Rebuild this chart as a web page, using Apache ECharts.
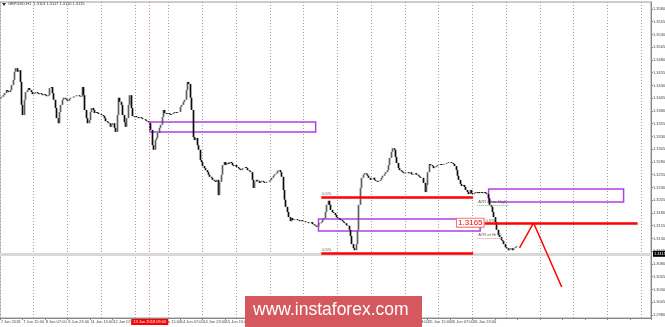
<!DOCTYPE html>
<html><head><meta charset="utf-8">
<script src="https://cdn.jsdelivr.net/npm/echarts@6/dist/echarts.min.js"></script>
<style>html,body{margin:0;padding:0;background:#fff}#c{width:665px;height:327px}</style>
</head><body><div id="c"></div>
<script>
// ---- data (GBPUSD H1) ----
const closes = [
1.3406,1.3408,1.3411,1.3415,1.3421,1.3419,1.3417,1.3421,1.3431,1.3441,
1.3457,1.3464,1.3457,1.3460,1.3437,1.3392,1.3372,1.3402,1.3417,1.3421,
1.3425,1.3421,1.3417,1.3413,1.3415,1.3417,1.3415,1.3413,1.3415,1.3413,
1.3411,1.3413,1.3411,1.3409,1.3411,1.3425,1.3427,1.3415,1.3402,1.3386,
1.3366,1.3356,1.3378,1.3392,1.3402,1.3406,1.3404,1.3402,1.3400,1.3404,
1.3406,1.3406,1.3408,1.3409,1.3411,1.3411,1.3409,1.3408,1.3427,1.3411,
1.3382,1.3366,1.3356,1.3362,1.3378,1.3386,1.3382,1.3376,1.3378,1.3376,
1.3374,1.3374,1.3372,1.3370,1.3366,1.3360,1.3358,1.3356,1.3349,1.3353,
1.3356,1.3347,1.3339,1.3372,1.3406,1.3398,1.3392,1.3372,1.3358,1.3349,
1.3366,1.3392,1.3411,1.3386,1.3370,1.3368,1.3370,1.3368,1.3366,1.3368,
1.3366,1.3364,1.3364,1.3362,1.3360,1.3358,1.3356,1.3343,1.3313,1.3304,
1.3323,1.3327,1.3337,1.3347,1.3353,1.3368,1.3382,1.3376,1.3374,1.3376,
1.3374,1.3372,1.3374,1.3376,1.3378,1.3376,1.3378,1.3378,1.3388,1.3392,
1.3398,1.3402,1.3421,1.3437,1.3433,1.3406,1.3382,1.3329,1.3323,1.3327,
1.3313,1.3304,1.3284,1.3280,1.3272,1.3268,1.3264,1.3260,1.3255,1.3251,
1.3249,1.3245,1.3243,1.3241,1.3245,1.3215,1.3241,1.3255,1.3274,1.3280,
1.3274,1.3278,1.3276,1.3280,1.3278,1.3274,1.3272,1.3274,1.3270,1.3268,
1.3266,1.3264,1.3268,1.3268,1.3270,1.3268,1.3264,1.3262,1.3260,1.3245,
1.3229,1.3241,1.3245,1.3243,1.3239,1.3241,1.3243,1.3241,1.3239,1.3241,
1.3241,1.3243,1.3245,1.3249,1.3253,1.3256,1.3258,1.3262,1.3264,1.3260,
1.3251,1.3225,1.3206,1.3192,1.3182,1.3172,1.3164,1.3170,1.3166,1.3168,
1.3168,1.3166,1.3166,1.3164,1.3166,1.3164,1.3164,1.3162,1.3162,1.3160,
1.3160,1.3162,1.3158,1.3156,1.3155,1.3153,1.3158,1.3160,1.3162,1.3166,
1.3170,1.3182,1.3196,1.3204,1.3196,1.3186,1.3182,1.3180,1.3176,1.3172,
1.3170,1.3168,1.3166,1.3164,1.3162,1.3160,1.3156,1.3155,1.3147,1.3135,
1.3119,1.3111,1.3107,1.3119,1.3147,1.3196,1.3229,1.3249,1.3255,1.3258,
1.3256,1.3253,1.3249,1.3245,1.3247,1.3249,1.3245,1.3243,1.3241,1.3243,
1.3245,1.3249,1.3253,1.3256,1.3260,1.3264,1.3274,1.3288,1.3300,1.3307,
1.3304,1.3290,1.3278,1.3268,1.3264,1.3262,1.3260,1.3258,1.3260,1.3260,
1.3258,1.3260,1.3256,1.3255,1.3256,1.3258,1.3255,1.3253,1.3251,1.3249,
1.3249,1.3239,1.3221,1.3235,1.3260,1.3276,1.3274,1.3272,1.3268,1.3270,
1.3272,1.3274,1.3274,1.3276,1.3274,1.3276,1.3276,1.3278,1.3278,1.3280,
1.3280,1.3278,1.3276,1.3272,1.3264,1.3253,1.3245,1.3237,1.3233,1.3235,
1.3231,1.3225,1.3221,1.3217,1.3225,1.3219,1.3217,1.3219,1.3221,1.3219,
1.3221,1.3219,1.3221,1.3219,1.3221,1.3219,1.3217,1.3209,1.3196,1.3192,
1.3182,1.3172,1.3162,1.3147,1.3137,1.3133,1.3127,1.3125,1.3119,1.3113,
1.3111,1.3107,1.3109,1.3111,1.3107,1.3111,1.3113,1.3115
];
const firstOpen = 1.3404;
const xTickLabels = ['7 Jun 2018','7 Jun 15:00','8 Jun 07:00','8 Jun 23:00','11 Jun 15:00','12 Jun 07:00','12 Jun 23:00','13 Jun 15:00','14 Jun 07:00','14 Jun 23:00','15 Jun 15:00','18 Jun 07:00','18 Jun 23:00','19 Jun 15:00','20 Jun 07:00','20 Jun 23:00','21 Jun 15:00','22 Jun 07:00','22 Jun 23:00','25 Jun 15:00','26 Jun 07:00','26 Jun 23:00','27 Jun 15:00'];
const yTickLabels = [1.2980,1.3005,1.3030,1.3055,1.3080,1.3105,1.3130,1.3155,1.3180,1.3205,1.3230,1.3255,1.3280,1.3305,1.3330,1.3355,1.3380,1.3405,1.3430,1.3455,1.3480,1.3505,1.3530,1.3555,1.3580];
const headerText = 'GBPUSD,H1  1.3113 1.3117 1.3110 1.3115';
const lastPrice = 1.3115;
const levelLabel = '1.3165';
// zones: [startBar, endBar, topPrice, bottomPrice]
const zone1 = [106, 224, 1.33584, 1.33388];
const zone2 = [226, 341, 1.31682, 1.31447];
const zone3 = [347, 443, 1.32270, 1.32016];
// red levels: [startBar, endBar, price]
const levelUpper = [228, 336, 1.32114];
const levelLower = [228, 336, 1.31016];
const levelRight = [344, 453, 1.31594];
// projected path: [bar, price]
const projection = [[369, 1.31114], [379, 1.31604], [399, 1.30349]];
const atrLine1 = [339, 361, 1.31957];
const atrLine2 = [339, 357, 1.31310];
const markerBar = 106;
const markerLabel = '13 Jun 2018 09:00';
const totalBars = 463;
const barsPerLabel = 16;
const barsPerGrid = 24;

// ---- build ----
const cats = [];
for (let i = 0; i < totalBars; i++) cats.push('b' + i);
const ohlc = closes.map((c, i) => {
  const o = i === 0 ? firstOpen : closes[i - 1];
  return [o, c, Math.min(o, c), Math.max(o, c)];
});
const red = '#ff0000', purple = '#b040e6';
const seg = (a, lineStyle, label) => ([
  {coord: [cats[a[0]], a[2]], lineStyle, label},
  {coord: [cats[a[1]], a[2]]}
]);
const redStyle = {color: red, width: 2.5, type: 'solid'};
const pctLabel = {show: true, position: 'insideStartTop', formatter: '0.5%', fontSize: 4, color: '#555', distance: 1, fontFamily: 'Liberation Sans'};
const zone = z => ([{xAxis: cats[z[0]], yAxis: z[2]}, {xAxis: cats[z[1]], yAxis: z[3]}]);
const small = {fontSize: 4, fontFamily: 'Liberation Sans'};

const chart = echarts.init(document.getElementById('c'), null, {renderer: 'canvas'});
chart.setOption({
  animation: false,
  backgroundColor: '#ffffff',
  title: {text: headerText, left: 8, top: 2, padding: 0,
    textStyle: {fontSize: 4, fontWeight: 'normal', color: '#333', fontFamily: 'Liberation Sans'}},
  grid: {left: 0, right: 14, top: 2, bottom: 9, show: true, borderColor: '#999', borderWidth: 1,
    outerBoundsMode: 'none', containLabel: false},
  xAxis: {
    type: 'category', data: cats, boundaryGap: true,
    axisLine: {lineStyle: {color: '#888'}},
    axisTick: {show: true, length: 2, interval: i => i % barsPerLabel === 0, lineStyle: {color: '#888'}},
    axisLabel: Object.assign({
      interval: i => i % barsPerLabel === 0 && (i / barsPerLabel) < xTickLabels.length,
      formatter: (v, i) => xTickLabels[i / barsPerLabel] || '',
      color: '#444', align: 'left', margin: 2, showMinLabel: true, hideOverlap: false
    }, small),
    splitLine: {show: true, interval: i => i % barsPerGrid === 0, lineStyle: {color: '#a0a0a0', type: [1, 2], width: 1}}
  },
  yAxis: {
    type: 'value', position: 'right', min: 1.29741, max: 1.35937, scale: true,
    axisLine: {show: true, lineStyle: {color: '#888'}},
    axisTick: {show: true, length: 2, customValues: yTickLabels, lineStyle: {color: '#888'}},
    axisLabel: Object.assign({customValues: yTickLabels, formatter: v => v.toFixed(4), color: '#444', margin: 2}, small),
    splitLine: {show: false}
  },
  series: [{
    type: 'candlestick', data: ohlc, barWidth: 1.2,
    itemStyle: {color: '#5e5e5e', borderColor: '#5e5e5e', color0: '#0a0a0a', borderColor0: '#0a0a0a', borderWidth: 1.7},
    markArea: {
      silent: true,
      itemStyle: {color: 'rgba(0,0,0,0)', borderColor: purple, borderWidth: 1.5},
      data: [zone(zone1), zone(zone2), zone(zone3)]
    },
    markLine: {
      silent: true, symbol: 'none', animation: false,
      data: [
        {xAxis: cats[markerBar], lineStyle: {color: '#f08080', type: [1, 2], width: 1},
          label: Object.assign({show: true, position: 'start', formatter: markerLabel, color: '#fff', backgroundColor: red, padding: [1, 2], distance: 1}, small)},
        {yAxis: lastPrice, lineStyle: {color: '#d8d8d8', width: 3, type: 'solid'},
          label: Object.assign({show: true, position: 'end', formatter: lastPrice.toFixed(4), color: '#fff', backgroundColor: '#000', padding: [1, 1], distance: 2}, small)},
        seg(levelUpper, redStyle, pctLabel),
        seg(levelLower, redStyle, pctLabel),
        seg(levelRight, redStyle, pctLabel),
        [{coord: [cats[projection[0][0]], projection[0][1]], lineStyle: {color: red, width: 1.5, type: 'solid'}, label: {show: false}},
         {coord: [cats[projection[1][0]], projection[1][1]]}],
        [{coord: [cats[projection[1][0]], projection[1][1]], lineStyle: {color: red, width: 1.5, type: 'solid'}, label: {show: false}},
         {coord: [cats[projection[2][0]], projection[2][1]]}],
        seg(atrLine1, {color: '#6cc06c', width: 1, type: [1, 1]},
          Object.assign({show: true, position: 'insideStartTop', formatter: 'ATR 24 от High', color: '#555', distance: 1}, small)),
        seg(atrLine2, {color: '#f08080', width: 1, type: [1, 1]},
          Object.assign({show: true, position: 'insideStartTop', formatter: 'ATR от Hi 90', color: '#555', distance: 1}, small))
      ]
    },
    markPoint: {
      silent: true, symbol: 'rect', symbolSize: 0,
      data: [{coord: [cats[334], 1.31610],
        label: {show: true, formatter: levelLabel, fontSize: 8, color: red, backgroundColor: '#fff',
          borderColor: '#f07070', borderWidth: 1, padding: [0, 1], fontFamily: 'Liberation Sans'}}]
    }
  }],
  graphic: [
    {type: 'rect', left: 245, top: 296, shape: {width: 177, height: 31}, style: {fill: '#d4585e'}, z: 100},
    {type: 'text', left: 253, top: 301, style: {text: 'www.instaforex.com', fill: '#fff', fontSize: 17.5, fontFamily: 'Liberation Sans'}, z: 101},
    {type: 'polygon', shape: {points: [[2, 3], [6, 3], [4, 6]]}, style: {fill: '#333'}, z: 101}
  ]
});
</script></body></html>
